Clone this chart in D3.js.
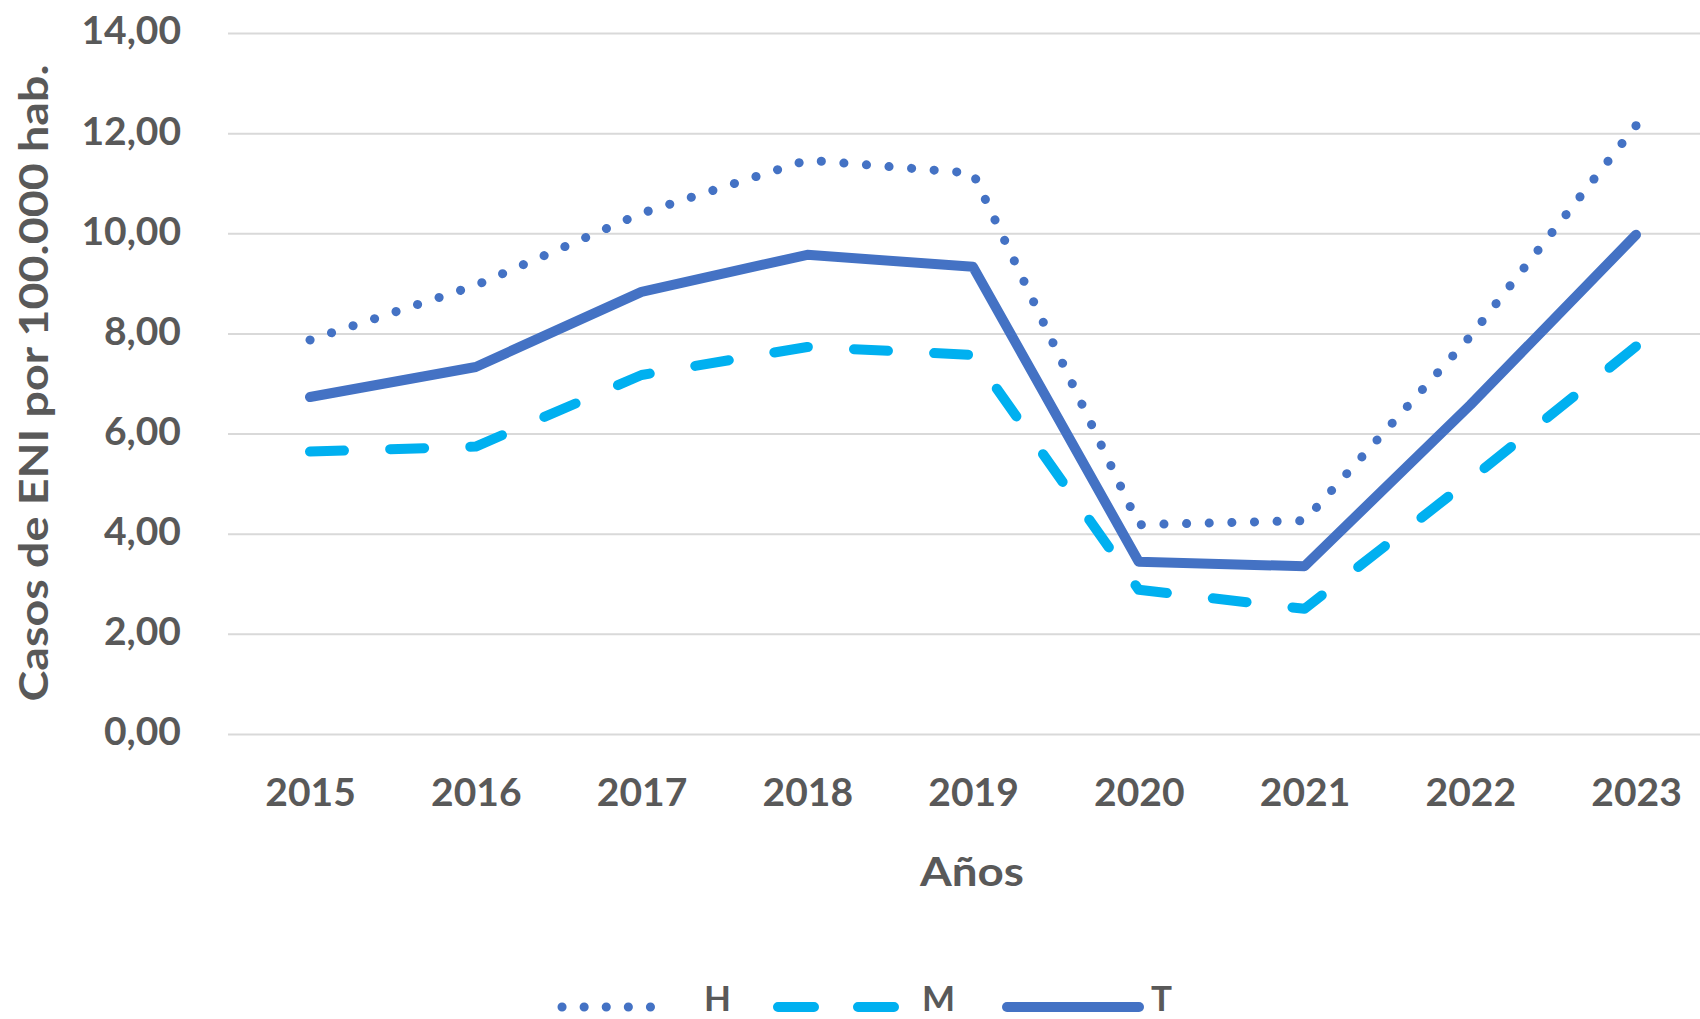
<!DOCTYPE html>
<html>
<head>
<meta charset="utf-8">
<script src="https://cdn.jsdelivr.net/npm/d3@7"></script>
<style>
  body { margin: 0; background: #ffffff; }
  svg text { font-family: Lato, "Open Sans", sans-serif; font-weight: 700; fill: #595959; }
</style>
</head>
<body>
<svg id="chart" width="1700" height="1019"></svg>
<script>
// ---- data ----
const years = ["2015", "2016", "2017", "2018", "2019", "2020", "2021", "2022", "2023"];
const valuesH = [7.87, 8.96, 10.40, 11.46, 11.20, 4.18, 4.26, 7.94, 12.15];
const valuesM = [5.64, 5.74, 7.17, 7.73, 7.57, 2.88, 2.50, 5.08, 7.74];
const valuesT = [6.73, 7.33, 8.83, 9.57, 9.33, 3.44, 3.35, 6.57, 9.97];
const seriesNames = ["H", "M", "T"];
const yTicks = [0, 2, 4, 6, 8, 10, 12, 14];
const yTitle = "Casos de ENI por 100.000 hab.";
const xTitle = "Años";

// ---- layout ----
const gridLeft = 228, gridRight = 1700;
const svg = d3.select("#chart");

const x = d3.scalePoint().domain(years).range([310, 1636]);
const y = d3.scaleLinear().domain([0, 14]).range([734, 33]);

const locale = d3.formatLocale({ decimal: ",", thousands: ".", grouping: [3], currency: ["", "€"] });
const fmt = locale.format(".2f");

// gridlines
const grid = svg.append("g").attr("transform", `translate(${gridLeft},0)`)
  .call(d3.axisLeft(y).tickValues(yTicks).tickSize(-(gridRight - gridLeft)).tickFormat(""));
grid.select(".domain").remove();
grid.selectAll("line").attr("stroke", "#d9d9d9").attr("stroke-width", 2);

// y axis labels
const yAxis = svg.append("g").attr("transform", `translate(${gridLeft},0)`)
  .call(d3.axisLeft(y).tickValues(yTicks).tickSize(0).tickPadding(47).tickFormat(fmt));
yAxis.select(".domain").remove();
yAxis.selectAll("text").attr("font-size", 39).attr("fill", "#595959").attr("dy", "0.28em");

// x axis labels
const xAxis = svg.append("g").attr("transform", `translate(0,734)`)
  .call(d3.axisBottom(x).tickSize(0).tickPadding(44));
xAxis.select(".domain").remove();
xAxis.selectAll("text").attr("font-size", 39).attr("fill", "#595959");

// axis titles
svg.append("text").attr("x", 972).attr("y", 886).attr("text-anchor", "middle")
  .attr("font-size", 40).attr("textLength", 104).attr("lengthAdjust", "spacingAndGlyphs")
  .text(xTitle);
svg.append("text").attr("transform", "translate(48,383) rotate(-90)").attr("text-anchor", "middle")
  .attr("font-size", 40).attr("textLength", 637).attr("lengthAdjust", "spacingAndGlyphs")
  .text(yTitle);

// series
const styles = {
  H: { color: "#4472C4", width: 9, dash: [0.1, 22.5] },
  M: { color: "#00B0F0", width: 10, dash: [34, 45] },
  T: { color: "#4472C4", width: 10, dash: null }
};
const seriesData = { H: valuesH, M: valuesM, T: valuesT };

const line = d3.line().x((d, i) => x(years[i])).y(d => y(d));

seriesNames.forEach(name => {
  const s = styles[name];
  const p = svg.append("path")
    .datum(seriesData[name])
    .attr("d", line)
    .attr("fill", "none")
    .attr("stroke", s.color)
    .attr("stroke-width", s.width)
    .attr("stroke-linecap", "round")
    .attr("stroke-linejoin", "round");
  if (s.dash) {
    // fit the pattern so it starts and ends on a mark
    const L = p.node().getTotalLength();
    const d = s.dash[0], period = s.dash[0] + s.dash[1];
    const n = Math.max(1, Math.round((L - d) / period));
    const per = (L - d) / n;
    p.attr("stroke-dasharray", `${d} ${per - d}`);
  }
});

// legend
const legendY = 1007;
const legendItems = [
  { name: "H", x1: 562, x2: 672, tx: 704, dash: "0.1 22" },
  { name: "M", x1: 778, x2: 894, tx: 922, dash: "36 44" },
  { name: "T", x1: 1007, x2: 1139, tx: 1151, dash: null }
];
legendItems.forEach(it => {
  const s = styles[it.name];
  svg.append("line")
    .attr("x1", it.x1).attr("x2", it.x2).attr("y1", legendY).attr("y2", legendY)
    .attr("stroke", s.color).attr("stroke-width", s.width)
    .attr("stroke-linecap", "round").attr("stroke-dasharray", it.dash);
  svg.append("text").attr("x", it.tx).attr("y", 1011).attr("font-size", 35).text(it.name);
});
</script>
</body>
</html>
